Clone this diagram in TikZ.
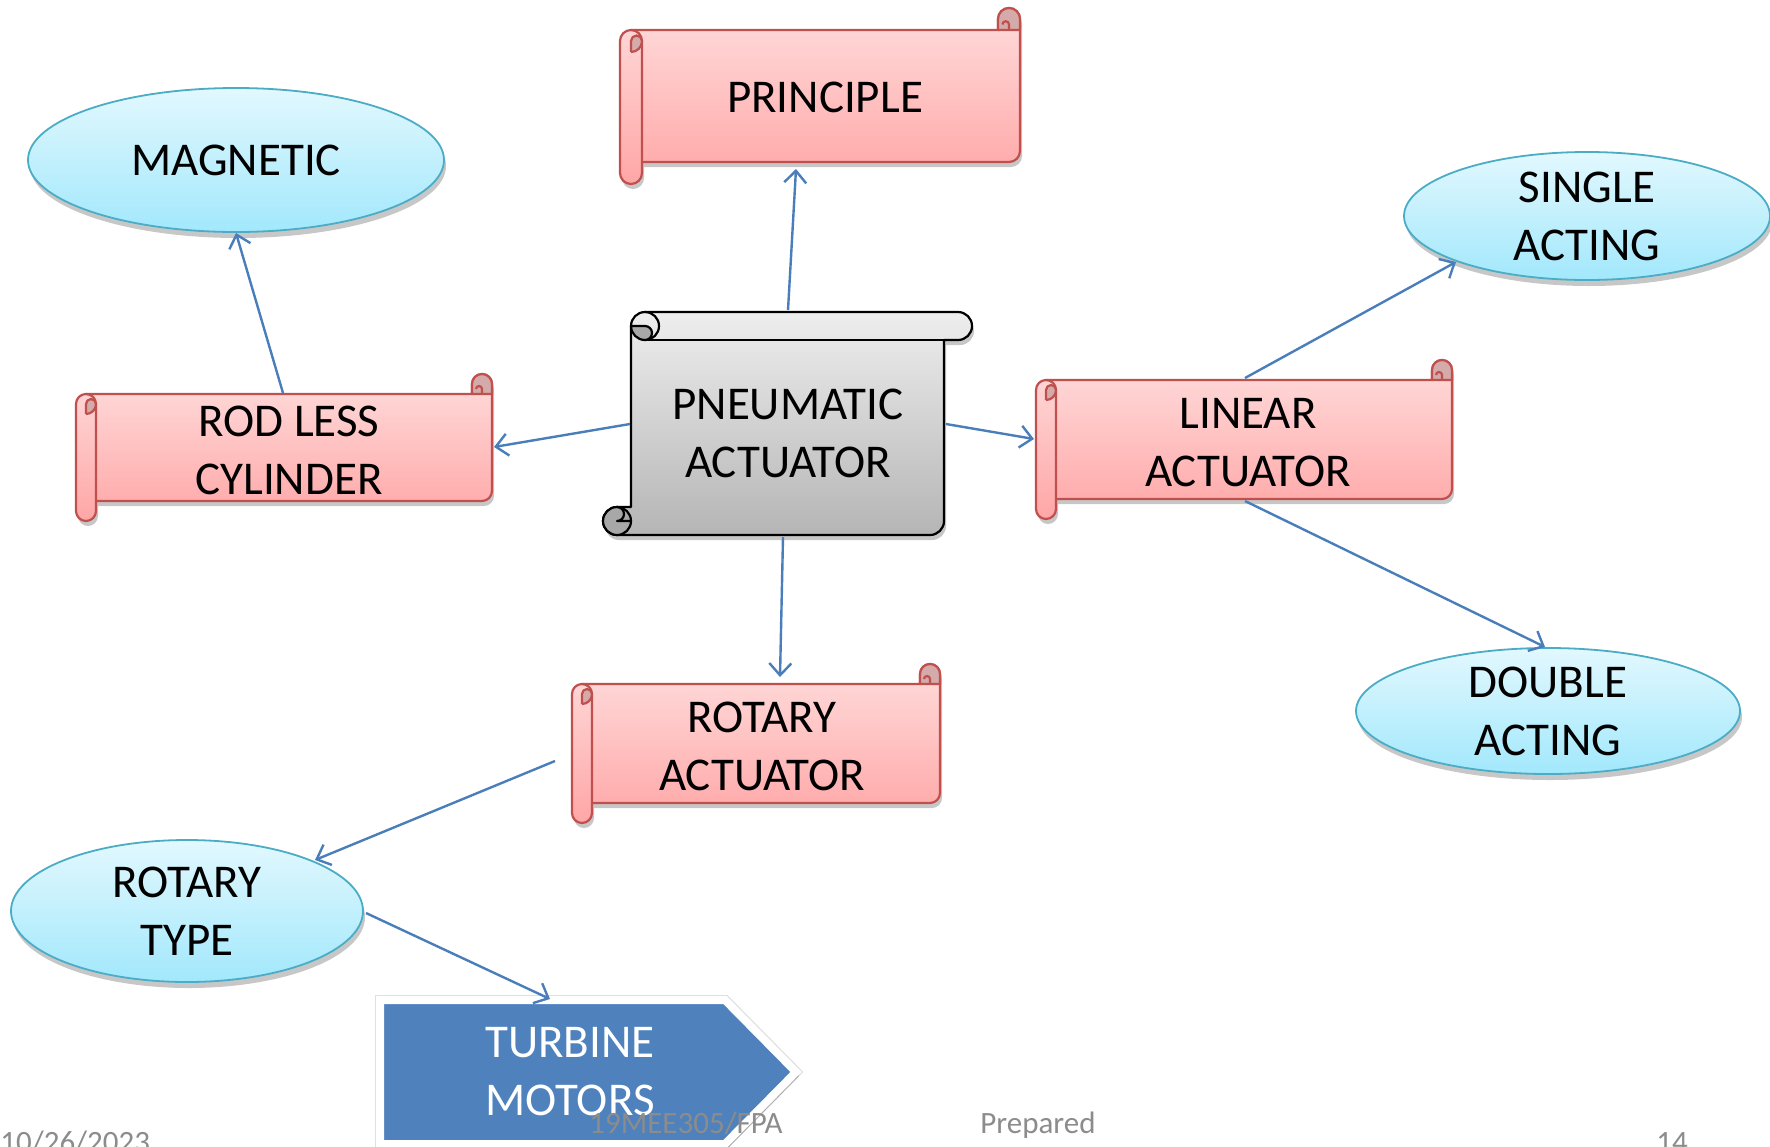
\documentclass[tikz,border=0pt]{standalone}
\usepackage{fontspec}
\setmainfont{Carlito}
\usetikzlibrary{arrows.meta,shadows,shapes.geometric}
\definecolor{scrollred}{HTML}{C0504D}
\definecolor{pinktop}{HTML}{FFDCDC}
\definecolor{pinkbot}{HTML}{FFA6A6}
\definecolor{pinkdark}{HTML}{D4AAAA}
\definecolor{greytop}{HTML}{EEEEEE}
\definecolor{greybot}{HTML}{B5B5B5}
\definecolor{greydark}{HTML}{A8A8A8}
\definecolor{cyantop}{HTML}{E2F8FE}
\definecolor{cyanbot}{HTML}{A2E8FC}
\definecolor{cyanedge}{HTML}{4BACC6}
\definecolor{linkblue}{HTML}{4A7EBB}
\definecolor{arrowfill}{HTML}{4F81BD}
\definecolor{footgrey}{HTML}{8C8C8C}
\tikzset{
  label/.style={font=\fontsize{23.5}{29}\selectfont, align=center, inner sep=0pt},
  footer/.style={font=\fontsize{15.5}{18}\selectfont, text=footgrey, inner sep=0pt},
  pinkscroll/.style={draw=scrollred, line width=1.1pt, top color=pinktop, bottom color=pinkbot, line join=round,
     drop shadow={shadow xshift=1pt, shadow yshift=-2.5pt, opacity=0.22, fill=black}},
  pinkdetail/.style={draw=scrollred, line width=1.1pt, line join=round},
  greyscroll/.style={draw=black, line width=1.1pt, top color=greytop, bottom color=greybot, line join=round,
     drop shadow={shadow xshift=1pt, shadow yshift=-2.5pt, opacity=0.22, fill=black}},
  greydetail/.style={draw=black, line width=1.1pt, line join=round},
  bubble/.style={ellipse, draw=cyanedge, line width=0.9pt, top color=cyantop, bottom color=cyanbot,
     inner sep=0pt, font=\fontsize{23.5}{29}\selectfont, align=center,
     drop shadow={shadow xshift=1pt, shadow yshift=-3pt, opacity=0.22, fill=black}},
  link/.style={draw=linkblue, line width=1.2pt, -{Straight Barb[length=6pt,width=11pt,line width=1.2pt]}},
}
% horizontal scroll: L T R B r
\newcommand\myhscroll[5]{%
  \pgfmathsetmacro\sL{#1}\pgfmathsetmacro\sT{#2}\pgfmathsetmacro\sR{#3}%
  \pgfmathsetmacro\sB{#4}\pgfmathsetmacro\sr{#5}\pgfmathsetmacro\sh{#5/2}%
  \path[pinkscroll] (\sL+\sh,\sT) -- (\sR-\sr,\sT) -- (\sR-\sr,\sT-\sh)
     arc[start angle=180,end angle=360,radius=\sh] -- (\sR,\sB-\sh)
     arc[start angle=0,end angle=90,radius=\sh] -- (\sL+\sr,\sB) -- (\sL+\sr,\sB+\sr-\sh)
     arc[start angle=0,end angle=180,radius=\sh] -- (\sL,\sT+\sh)
     arc[start angle=180,end angle=270,radius=\sh] -- cycle;
  % right roll cap
  \path[pinkdetail, fill=pinkdark] (\sR-\sr,\sT) -- (\sR-\sr,\sT-\sh)
     arc[start angle=180,end angle=360,radius=\sh] -- (\sR,\sT) -- cycle;
  \path[pinkdetail] (\sR-\sh,\sT) -- (\sR-\sh,\sT-\sh*0.5)
     arc[start angle=0,end angle=-180,radius=\sh*0.3];
  % left roll
  \path[pinkdetail] (\sL+\sh,\sT) arc[start angle=270,end angle=360,radius=\sh] -- (\sL+\sr,\sB);
  \path[pinkdetail, fill=pinkdark] (\sL+\sh,\sT+\sr) -- (\sL+\sh,\sT+\sh)
     arc[start angle=180,end angle=360,radius=\sh*0.5]
     arc[start angle=0,end angle=90,radius=\sh] ;
}
% vertical scroll: L T R B r
\newcommand\myvscroll[5]{%
  \pgfmathsetmacro\sL{#1}\pgfmathsetmacro\sT{#2}\pgfmathsetmacro\sR{#3}%
  \pgfmathsetmacro\sB{#4}\pgfmathsetmacro\sr{#5}\pgfmathsetmacro\sh{#5/2}%
  \path[greyscroll] (\sL+\sr+\sh,\sT) -- (\sR-\sh,\sT)
     arc[start angle=270,end angle=450,radius=\sh] -- (\sR-\sr,\sT+\sr) -- (\sR-\sr,\sB-\sh)
     arc[start angle=0,end angle=90,radius=\sh] -- (\sL+\sh,\sB)
     arc[start angle=90,end angle=270,radius=\sh] -- (\sL+\sr,\sB-\sr) -- (\sL+\sr,\sT+\sh)
     arc[start angle=180,end angle=270,radius=\sh] -- cycle;
  % top roll
  \path[greydetail] (\sL+\sr+\sh,\sT+\sr) -- (\sR-\sr,\sT+\sr);
  \path[greydetail] (\sL+\sr+\sh,\sT) arc[start angle=270,end angle=450,radius=\sh];
  \path[greydetail, fill=greydark] (\sL+\sr,\sT+\sh) arc[start angle=180,end angle=90,radius=\sh]
     arc[start angle=90,end angle=-90,radius=\sh*0.5] -- cycle;
  % bottom curl
  \path[greydetail, fill=greydark] (\sL+\sh,\sB-\sh) circle[radius=\sh];
  \path[greydetail] (\sL+\sh,\sB-\sr) arc[start angle=270,end angle=450,radius=\sh*0.5] -- (\sL+\sr,\sB-\sh);
}
\begin{document}
\begin{tikzpicture}[x=0.5pt,y=-0.5pt]
\useasboundingbox (0,0) rectangle (1770,1146);
\fill[white] (0,0) rectangle (1770,1146);

% ---- scrolls ----
\myhscroll{620}{30}{1020}{162}{22}
\node[label] (principle) at (825,97) {PRINCIPLE};

\myhscroll{76}{394}{492}{501}{20}
\node[label] (rodless) at (289,450) {ROD LESS\\CYLINDER};

\myhscroll{1036}{380}{1452}{499}{20}
\node[label] (linear) at (1248,443) {LINEAR\\ACTUATOR};

\myhscroll{572}{684}{940}{803}{20}
\node[label] (rotact) at (762,746) {ROTARY\\ACTUATOR};

\myvscroll{603}{312}{972}{535}{28}
\node[label] (pneu) at (788,433) {PNEUMATIC\\ACTUATOR};

% ---- ellipses ----
\node[bubble, minimum width=208pt, minimum height=72pt] (magnetic) at (236,160) {MAGNETIC};
\node[bubble, minimum width=183pt, minimum height=64pt] (single) at (1587,216) {SINGLE\\ACTING};
\node[bubble, minimum width=192pt, minimum height=63pt] (double) at (1548,711) {DOUBLE\\ACTING};
\node[bubble, minimum width=176pt, minimum height=71pt] (rottype) at (187,911) {ROTARY\\TYPE};

% ---- pentagon arrow ----
\path[draw=black!12, line width=1pt, line join=miter]
  (376,996) -- (727,996) -- (802,1072) -- (727,1148) -- (376,1148) -- cycle;
\path[fill=arrowfill, draw=white, line width=4pt, line join=miter,
      drop shadow={shadow xshift=1.5pt, shadow yshift=-2pt, opacity=0.25, fill=black}]
  (380,1000) -- (725,1000) -- (796,1072) -- (725,1144) -- (380,1144) -- cycle;
\node[label, text=white] (turbine) at (570,1072) {TURBINE\\MOTORS};

% ---- connector end points ----
\coordinate (pa-n) at (788,310);
\coordinate (pr-s) at (796,169);
\coordinate (rl-n) at (283,393);
\coordinate (mg-s) at (236,233);
\coordinate (pa-w) at (630,424);
\coordinate (rl-e) at (494,447);
\coordinate (pa-e) at (946,424);
\coordinate (la-w) at (1034,439);
\coordinate (pa-s) at (783,537);
\coordinate (ra-n) at (780,677);
\coordinate (la-n) at (1245,378);
\coordinate (sa-sw) at (1456,262);
\coordinate (la-s) at (1245,501);
\coordinate (da-n) at (1545,647);
\coordinate (ra-w) at (555,761);
\coordinate (rt-ne) at (315,860);
\coordinate (rt-e) at (366,913);
\coordinate (tm-n) at (550,999);

\draw[link] (pa-n) -- (pr-s);
\draw[link] (rl-n) -- (mg-s);
\draw[link] (pa-w) -- (rl-e);
\draw[link] (pa-e) -- (la-w);
\draw[link] (pa-s) -- (ra-n);
\draw[link] (la-n) -- (sa-sw);
\draw[link] (la-s) -- (da-n);
\draw[link] (ra-w) -- (rt-ne);
\draw[link] (rt-e) -- (tm-n);

% ---- footer ----
\node[footer, anchor=base west] (date) at (0,1152) {10/26/2023};
\node[footer, anchor=base west] (course) at (589,1133) {19MEE305/FPA};
\node[footer, anchor=base west] (prep) at (980,1133) {Prepared};
\node[footer, anchor=base west] (page) at (1656,1152) {14};
\end{tikzpicture}
\end{document}
